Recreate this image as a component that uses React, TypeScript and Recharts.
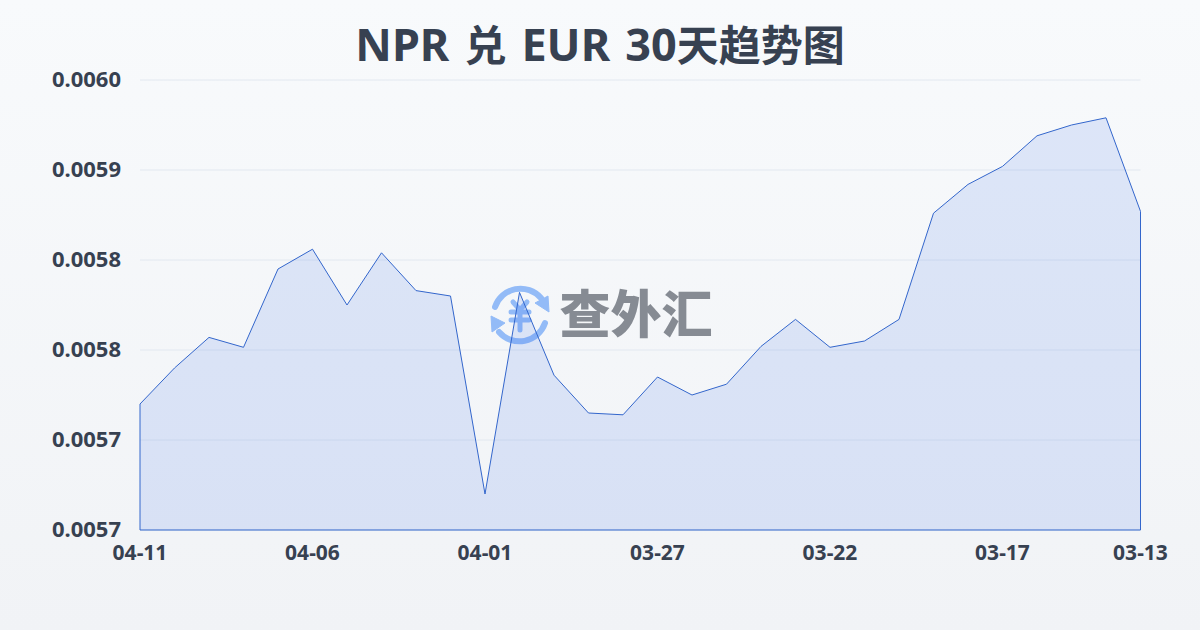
import React from "react";
import { AreaChart, Area, XAxis, YAxis, CartesianGrid, ReferenceLine } from "recharts";

const dates = ["04-11","04-10","04-09","04-08","04-07","04-06","04-05","04-04","04-03","04-02","04-01","03-31","03-30","03-29","03-28","03-27","03-26","03-25","03-24","03-23","03-22","03-21","03-20","03-19","03-18","03-17","03-16","03-15","03-14","03-13"];
const rates = [0.00577,0.00579,0.005807,0.0058015,0.005845,0.005856,0.005825,0.005854,0.005833,0.00583,0.00572,0.005832,0.005786,0.005765,0.005764,0.005785,0.005775,0.005781,0.005802,0.005817,0.0058015,0.005805,0.005817,0.005876,0.005892,0.005902,0.005919,0.005925,0.005929,0.005877];
const xTicks = ["04-11","04-06","04-01","03-27","03-22","03-17","03-13"];
const yTicks = [0.0057,0.00575,0.0058,0.00585,0.0059,0.00595];
const yLabels = ["0.0057","0.0057","0.0058","0.0058","0.0059","0.0060"];
const titleParts = ["NPR ", "兑", " EUR 30", "天趋势图"];
const brand = "查外汇";

const data = dates.map((d, i) => ({ d, v: rates[i] }));
const font = '"Noto Sans","Noto Sans CJK SC",sans-serif';
const LINE = "#3366cc";
const ICON = "#93bbf7";

function Logo() {
  return (
    <svg width={1200} height={630} style={{ position: "absolute", left: 0, top: 0 }}>
      <g fill="none" stroke={ICON} strokeWidth={6} strokeLinecap="round">
        <path d="M495 307 A27 27 0 0 1 541 298" />
        <path d="M545 323 A27 27 0 0 1 499 332" />
      </g>
      <path d="M548 296 L549 312 L535 303 Z" fill={ICON} stroke={ICON} strokeWidth={1} strokeLinejoin="round" />
      <path d="M491 316 L505 323 L492 332 Z" fill={ICON} stroke={ICON} strokeWidth={1} strokeLinejoin="round" />
      <g fill="none" stroke={ICON} strokeWidth={5} strokeLinecap="round">
        <path d="M513 302 L520 310 L527 302" />
        <path d="M511 312 L529 312 M511 320 L529 320 M520 310 L520 330" />
      </g>
      <text x={636} y={333} textAnchor="middle" fontFamily='"Noto Sans CJK SC"' fontWeight={900} fontSize={51} fill="#868b93">{brand}</text>
    </svg>
  );
}

export default function App() {
  return (
    <div style={{ position: "absolute", left: 0, top: 0, width: 1200, height: 630, overflow: "hidden", background: "linear-gradient(180deg,#f8fafc 0%,#f1f3f6 100%)" }}>
      <Logo />
      <div style={{ position: "absolute", left: 0, top: 0, width: 1200, textAlign: "center", fontFamily: font, fontWeight: 700, fontSize: 45, lineHeight: "87px", wordSpacing: 3.3, color: "#374151" }}>
        {titleParts.map((p, i) => (
          <span key={i} style={i % 2 === 1 ? { fontSize: 42 } : undefined}>{p}</span>
        ))}
      </div>
      <div style={{ position: "absolute", left: 0, top: 0 }}>
        <AreaChart width={1200} height={630} data={data} margin={{ top: 80, right: 59.5, bottom: 70, left: 0 }}>
          <CartesianGrid vertical={false} stroke="#e2e8f0" strokeWidth={1} />
          <XAxis dataKey="d" height={30} ticks={xTicks} interval={0} scale="point" padding={{ left: 0, right: 0 }} axisLine={false} tickLine={false} tickMargin={9}
            tick={{ fontFamily: font, fontWeight: 700, fontSize: 21, fill: "#374151" }} />
          <YAxis width={140} domain={[0.0057, 0.00595]} ticks={yTicks} axisLine={false} tickLine={false} tickMargin={13}
            tickFormatter={(_v: number, i: number) => yLabels[i]}
            tick={{ fontFamily: font, fontWeight: 700, fontSize: 22, fill: "#374151", dy: -1 }} />
          <Area type="linear" dataKey="v" baseValue={0.0057} stroke={LINE} strokeWidth={1} fill="#2563eb" fillOpacity={0.125} isAnimationActive={false} dot={false} activeDot={false} />
          <ReferenceLine segment={[{ x: dates[0], y: 0.0057 }, { x: dates[0], y: rates[0] }]} stroke={LINE} strokeWidth={1} />
          <ReferenceLine segment={[{ x: dates[29], y: 0.0057 }, { x: dates[29], y: rates[29] }]} stroke={LINE} strokeWidth={1} />
          <ReferenceLine segment={[{ x: dates[0], y: 0.0057 }, { x: dates[29], y: 0.0057 }]} stroke={LINE} strokeWidth={1} />
        </AreaChart>
      </div>
    </div>
  );
}
